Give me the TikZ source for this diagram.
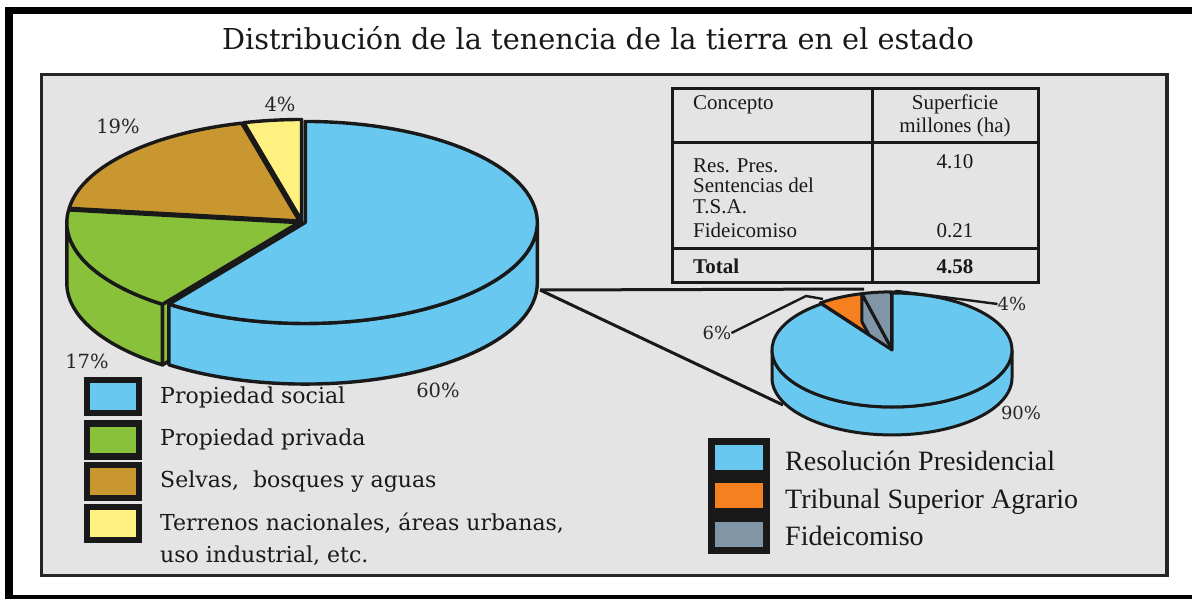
\documentclass[tikz,border=0pt]{standalone}
\usepackage{fontspec}
\setmainfont{DejaVu Serif}
\newfontfamily\timesfont{Liberation Serif}
\usetikzlibrary{positioning}

\definecolor{panel}{RGB}{228,228,228}
\definecolor{social}{RGB}{104,200,240}
\definecolor{privada}{RGB}{138,193,58}
\definecolor{selvas}{RGB}{201,151,48}
\definecolor{terrenos}{RGB}{255,241,128}
\definecolor{resolucion}{RGB}{104,200,240}
\definecolor{tribunal}{RGB}{245,128,32}
\definecolor{fideicomiso}{RGB}{128,150,166}

\begin{document}
\begin{tikzpicture}[x=1pt, y=-1pt,
    slice/.style={draw=black!90, line width=3.4pt, line join=round},
    slicetwo/.style={draw=black!90, line width=3pt, line join=round},
    legbox/.style={draw=black!90, line width=6.5pt, minimum width=52pt, minimum height=33pt, inner sep=0pt},
    rlegbox/.style={draw=black!90, line width=7pt, minimum width=55pt, minimum height=32pt, inner sep=0pt},
    pct/.style={font=\fontsize{19.5}{22}\selectfont, text=black!85, inner sep=0pt},
    legtext/.style={font=\fontsize{22}{26}\selectfont, text=black!90, anchor=base west, inner sep=0pt},
    rlegtext/.style={font=\timesfont\fontsize{28}{32}\selectfont, text=black!90, anchor=base west, inner sep=0pt},
    tabtext/.style={font=\timesfont\fontsize{21}{24}\selectfont, text=black!90, inner sep=0pt},
    tabline/.style={draw=black!90, line width=3pt},
    leader/.style={draw=black!90, line width=2.4pt}]

    \useasboundingbox (0,0) rectangle (1192,599);
    \clip (0,0) rectangle (1192,599);
    \fill[white] (0,0) rectangle (1192,599);

    % Draw Frames
    \draw[line width=7.5pt] (9,10.5) rectangle (1210,599);
    \filldraw[fill=panel, draw=black!85, line width=3.2pt] (41.5,74.5) rectangle (1167,575.5);

    % Title
    \node[font=\fontsize{28.8}{32}\selectfont, text=black!90, anchor=base, inner sep=0pt] (title) at (598,50)
        {Distribución de la tenencia de la tierra en el estado};

    % Zoom lines
    \coordinate (zoomfrom) at (540,290);
    \coordinate (zoomtop) at (864,289);
    \coordinate (zoombot) at (783,405);
    \draw[black!90, line width=3pt] (zoomfrom) -- (zoomtop);
    \draw[black!90, line width=3pt] (zoomfrom) -- (zoombot);

    % Draw big pie
    \begin{scope}[shift={(302,222)}, x=232pt, y=101pt]
        % terrenos
        \begin{scope}[shift={(97.2:0.015)}]
            \filldraw[slice, fill=terrenos] (0,0) -- (104.4:1) -- ++(0,-0.6) -- (0,-0.6) -- cycle;
            \filldraw[slice, fill=terrenos] (0,0) -- (90:1) arc[start angle=90, end angle=104.4, radius=1] -- cycle;
        \end{scope}
        % selvas
        \begin{scope}[shift={(138.6:0.015)}]
            \filldraw[slice, fill=selvas] (0,0) -- (172.8:1) -- ++(0,-0.6) -- (0,-0.6) -- cycle;
            \filldraw[slice, fill=selvas] (0,0) -- (104.4:1) arc[start angle=104.4, end angle=172.8, radius=1] -- cycle;
        \end{scope}
        % privada
        \begin{scope}[shift={(203.4:0.015)}]
            \filldraw[slice, fill=privada] (0,0) -- (234:1) -- ++(0,-0.6) -- (0,-0.6) -- cycle;
            \filldraw[slice, fill=privada] (180:1) arc[start angle=180, end angle=234, radius=1]
                -- ++(0,-0.6) arc[start angle=234, end angle=180, radius=1] -- cycle;
            \filldraw[slice, fill=privada] (0,0) -- (172.8:1) arc[start angle=172.8, end angle=234, radius=1] -- cycle;
        \end{scope}
        % social
        \begin{scope}[shift={(-18:0.015)}]
            \filldraw[slice, fill=social] (234:1) arc[start angle=234, end angle=360, radius=1]
                -- ++(0,-0.6) arc[start angle=360, end angle=234, radius=1] -- cycle;
            \filldraw[slice, fill=social] (0,0) -- (234:1) arc[start angle=234, end angle=450, radius=1] -- cycle;
        \end{scope}
    \end{scope}

    % Big pie labels
    \node[pct] (p4) at (280,104) {4\%};
    \node[pct] (p19) at (118,126) {19\%};
    \node[pct] (p17) at (87,361) {17\%};
    \node[pct] (p60) at (438,390) {60\%};

    % Draw small pie
    \begin{scope}[shift={(892,350)}, x=120pt, y=57pt]
        % tribunal
        \begin{scope}[shift={(115.2:0.02)}]
            \filldraw[slicetwo, fill=tribunal] (0,0) -- (126:1) -- ++(0,-0.49) -- (0,-0.49) -- cycle;
            \filldraw[slicetwo, fill=tribunal] (0,0) -- (104.4:1) arc[start angle=104.4, end angle=126, radius=1] -- cycle;
        \end{scope}
        % fideicomiso
        \begin{scope}[shift={(97.2:0.02)}]
            \filldraw[slicetwo, fill=fideicomiso] (0,0) -- (104.4:1) -- ++(0,-0.49) -- (0,-0.49) -- cycle;
            \filldraw[slicetwo, fill=fideicomiso] (0,0) -- (90:1) arc[start angle=90, end angle=104.4, radius=1] -- cycle;
        \end{scope}
        % resolucion
        \filldraw[slicetwo, fill=resolucion] (180:1) arc[start angle=180, end angle=360, radius=1]
            -- ++(0,-0.49) arc[start angle=360, end angle=180, radius=1] -- cycle;
        \filldraw[slicetwo, fill=resolucion] (0,0) -- (126:1) arc[start angle=126, end angle=450, radius=1] -- cycle;
    \end{scope}

    % Small pie labels
    \node[pct, font=\fontsize{18}{20}\selectfont] (s6) at (717,333) {6\%};
    \node[pct, font=\fontsize{18}{20}\selectfont] (s4) at (1012,304) {4\%};
    \node[pct, font=\fontsize{18}{20}\selectfont] (s90) at (1021,413) {90\%};
    \coordinate (k6a) at (806,296);
    \coordinate (k6b) at (823,299);
    \coordinate (k4a) at (897,291);
    \coordinate (k4b) at (889,293);
    \draw[leader] (s6.east) -- (k6a) -- (k6b);
    \draw[leader] (s4.west) -- (k4a) -- (k4b);

    % Table
    \draw[tabline] (672,89) rectangle (1038,282);
    \draw[tabline] (672,143) -- (1038,143);
    \draw[tabline] (672,248) -- (1038,248);
    \draw[tabline] (872,89) -- (872,282);
    \node[tabtext, anchor=base west] (hconcepto) at (693,110) {Concepto};
    \node[tabtext, anchor=base] (hsup) at (955,110) {Superficie};
    \node[tabtext, anchor=base] (hmill) at (955,133) {millones (ha)};
    \node[tabtext, anchor=base west] (cres) at (693,172) {Res. Pres.};
    \node[tabtext, anchor=base west] (csent) at (693,193) {Sentencias del};
    \node[tabtext, anchor=base west] (ctsa) at (693,213) {T.S.A.};
    \node[tabtext, anchor=base west] (cfid) at (693,237) {Fideicomiso};
    \node[tabtext, anchor=base] (v410) at (955,168) {4.10};
    \node[tabtext, anchor=base] (v021) at (955,237) {0.21};
    \node[tabtext, anchor=base west, font=\timesfont\bfseries\fontsize{21}{24}\selectfont] (ctotal) at (693,273) {Total};
    \node[tabtext, anchor=base, font=\timesfont\bfseries\fontsize{21}{24}\selectfont] (v458) at (955,273) {4.58};

    % Left legend
    \node[legbox, fill=social] (ksocial) at (113,396.5) {};
    \node[legbox, fill=privada] (kprivada) at (113,440) {};
    \node[legbox, fill=selvas] (kselvas) at (113,481.5) {};
    \node[legbox, fill=terrenos] (kterrenos) at (113,523.5) {};
    \node[legtext] (tsocial) at (160,403) {Propiedad social};
    \node[legtext] (tprivada) at (160,445) {Propiedad privada};
    \node[legtext] (tselvas) at (160,487) {Selvas,\ \ bosques y aguas};
    \node[legtext] (tterrenos) at (160,530) {Terrenos nacionales, áreas urbanas,};
    \node[legtext] (tterrenosb) at (160,562) {uso industrial, etc.};

    % Right legend
    \node[rlegbox, fill=resolucion] (kresolucion) at (739,457.5) {};
    \node[rlegbox, fill=tribunal] (ktribunal) at (739,495.5) {};
    \node[rlegbox, fill=fideicomiso] (kfideicomiso) at (739,534.5) {};
    \node[rlegtext] (tresolucion) at (785,470) {Resolución Presidencial};
    \node[rlegtext] (ttribunal) at (785,508) {Tribunal Superior Agrario};
    \node[rlegtext] (tfideicomiso) at (785,545) {Fideicomiso};
\end{tikzpicture}
\end{document}
